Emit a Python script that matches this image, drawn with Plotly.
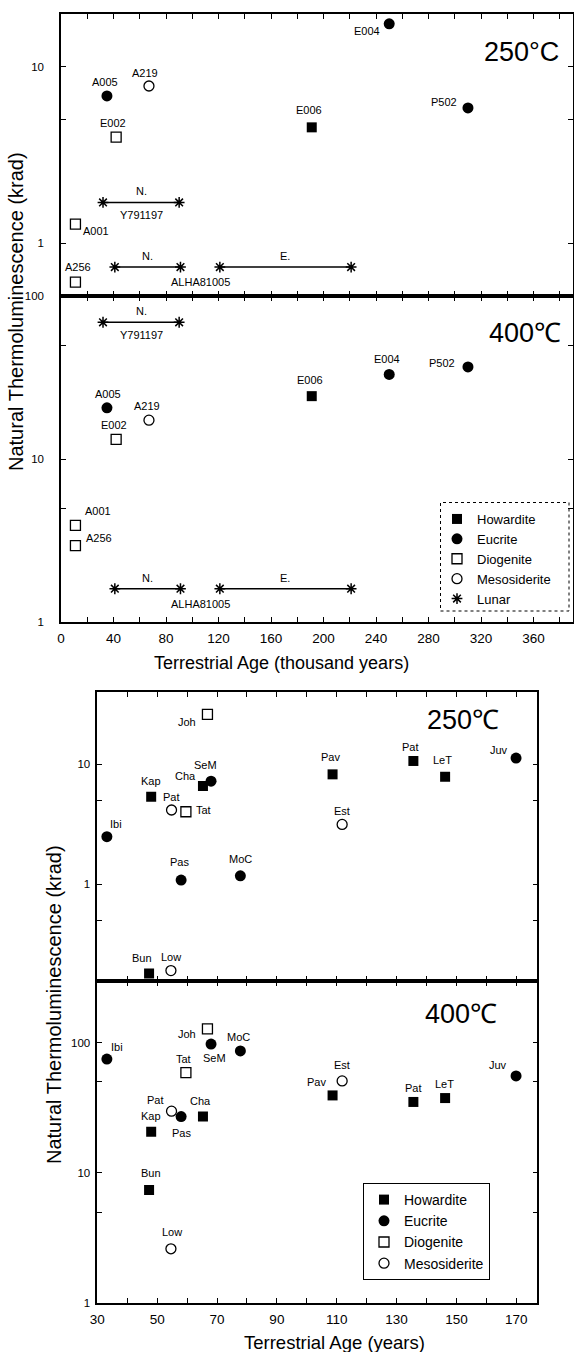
import math
import plotly.graph_objects as go

W, H = 574, 1352

# ---------------- Figure 1 data (terrestrial age in thousand years) ----------------
f1_names = ["A001", "A005", "A219", "A256", "E002", "E004", "E006", "P502"]
f1_types = ["Diogenite", "Eucrite", "Mesosiderite", "Diogenite",
            "Diogenite", "Eucrite", "Howardite", "Eucrite"]
f1_age = [11, 35, 67, 11, 42, 250, 191, 310]
f1_tl250 = [1.28, 6.85, 7.8, 0.60, 4.0, 17.6, 4.54, 5.85]
f1_tl400 = [3.92, 20.6, 17.3, 2.94, 13.2, 33.0, 24.3, 36.7]

lunar_names = ["Y791197", "ALHA81005", "ALHA81005"]
lunar_tags = ["N.", "N.", "E."]
lunar_age_from = [32, 41, 121]
lunar_age_to = [90, 91, 221]
lunar_tl250 = [1.70, 0.73, 0.73]
lunar_tl400 = [69.0, 1.6, 1.6]

# ---------------- Figure 2 data (terrestrial age in years) ----------------
f2_names = ["Ibi", "Kap", "Bun", "Pat", "Low", "Tat", "Pas", "Cha",
            "Joh", "SeM", "MoC", "Pav", "Est", "Pat", "LeT", "Juv"]
f2_types = ["Eucrite", "Howardite", "Howardite", "Mesosiderite", "Mesosiderite",
            "Diogenite", "Eucrite", "Howardite", "Diogenite", "Eucrite", "Eucrite",
            "Howardite", "Mesosiderite", "Howardite", "Howardite", "Eucrite"]
f2_age = [33.2, 48, 47.3, 54.8, 54.6, 59.6, 58, 65.3, 66.8, 68, 77.8,
          108.6, 111.8, 135.6, 146.2, 169.9]
f2_tl250 = [2.48, 5.34, 0.18, 4.14, 0.19, 4.0, 1.08, 6.56, 25.9, 7.2, 1.17,
            8.2, 3.14, 10.6, 7.83, 11.2]
f2_tl400 = [75, 20.7, 7.4, 29.8, 2.61, 58.9, 27.1, 27.1, 128, 97.8, 86.6,
            39.4, 50.9, 35.1, 37.6, 55.6]

categories = ["Howardite", "Eucrite", "Diogenite", "Mesosiderite"]

# ---------------- styles ----------------
symbols = {"Howardite": "square", "Eucrite": "circle",
           "Diogenite": "square-open", "Mesosiderite": "circle-open"}
sizes = {"Howardite": 10, "Eucrite": 11, "Diogenite": 10, "Mesosiderite": 10}

# label offsets in pixels (dx, dy-up), per panel, in order of the name lists
off_f1_250 = [(21, -7), (-2, 14), (-4, 13), (3, 15), (-3, 14), (-22, -7), (-3, 17), (-24, 6)]
off_f1_400 = [(23, 14), (1, 14), (-1.5, 14), (24, 8), (-2, 14), (-2.5, 15), (-2, 16), (-25.5, 4)]
off_f2_250 = [(9.5, 13), (0, 16), (-7, 15), (0, 13), (0, 14), (18, 2), (-2, 18), (-17, 10),
              (-20, -8), (-5.5, 16), (0, 17), (-2, 17), (0, 13), (-2.5, 14), (-3, 17), (-17.5, 8)]
off_f2_400 = [(10, 12), (0, 16), (2, 17), (-16, 11), (1, 17), (-2, 14), (0, -16), (-2, 16),
              (-20, -5), (3, -14), (-2, 14), (-16, 13), (0, 16), (0, 14), (-1, 14), (-18, 11)]

FONT = "Liberation Sans, Arial, sans-serif"


def xd(px):
    return px / W


def yd(px):
    return 1 - px / H


fig = go.Figure()
annotations = []


def label(xa, ya, x, y, text, dx=0, dy=0, size=11):
    annotations.append(dict(x=x, y=y, xref=xa, yref=ya, text=text, showarrow=False,
                            xanchor="center", yanchor="middle", xshift=dx, yshift=dy,
                            font=dict(family=FONT, size=size, color="black")))


def add_points(xa, ya, names, types, ages, vals, offs, legend=None):
    for cat in categories:
        idx = [i for i, t in enumerate(types) if t == cat]
        if not idx:
            continue
        filled = not symbols[cat].endswith("open")
        fig.add_trace(go.Scatter(
            x=[ages[i] for i in idx], y=[vals[i] for i in idx],
            mode="markers", name=cat, xaxis=xa, yaxis=ya,
            marker=dict(symbol=symbols[cat], size=sizes[cat], color="black",
                        line=dict(color="black", width=1.3 if not filled else 0)),
            showlegend=legend is not None,
            legend=legend if legend else "legend",
            hoverinfo="skip",
        ))
    for i, n in enumerate(names):
        dx, dy = offs[i]
        label(xa, ya, ages[i], math.log10(vals[i]), n, dx, dy)


def add_lunar(xa, ya, vals, legend=None):
    lx, ly, mx, my = [], [], [], []
    for a0, a1, v in zip(lunar_age_from, lunar_age_to, vals):
        lx += [a0, a1, None]
        ly += [v, v, None]
        mx += [a0, a1]
        my += [v, v]
    fig.add_trace(go.Scatter(x=lx, y=ly, mode="lines", xaxis=xa, yaxis=ya,
                             line=dict(color="black", width=1.5),
                             showlegend=False, hoverinfo="skip"))
    fig.add_trace(go.Scatter(x=mx, y=my, mode="markers", name="Lunar", xaxis=xa, yaxis=ya,
                             marker=dict(symbol="asterisk-open", size=9, color="black",
                                         line=dict(color="black", width=1.5)),
                             showlegend=legend is not None,
                             legend=legend if legend else "legend",
                             hoverinfo="skip"))
    for k, (a0, a1, v) in enumerate(zip(lunar_age_from, lunar_age_to, vals)):
        label(xa, ya, (a0 + a1) / 2, math.log10(v), lunar_tags[k], 0, 11)
        if lunar_tags[k] == "N.":
            if k == 0:
                label(xa, ya, (a0 + a1) / 2, math.log10(v), lunar_names[k], 0, -13)
            else:
                label(xa, ya, a1, math.log10(v), lunar_names[k], 20, -15)


# Figure 1
add_points("x2", "y2", f1_names, f1_types, f1_age, f1_tl250, off_f1_250)
add_lunar("x2", "y2", lunar_tl250)
add_points("x", "y", f1_names, f1_types, f1_age, f1_tl400, off_f1_400, legend="legend")
add_lunar("x", "y", lunar_tl400, legend="legend")

# Figure 2
add_points("x4", "y4", f2_names, f2_types, f2_age, f2_tl250, off_f2_250)
add_points("x3", "y3", f2_names, f2_types, f2_age, f2_tl400, off_f2_400, legend="legend2")

axis_common = dict(showline=True, linecolor="black", linewidth=1.5, mirror="ticks",
                   ticks="inside", ticklen=5, tickwidth=1.2, tickcolor="black",
                   showgrid=False, zeroline=False, fixedrange=True)

f1_xticks = list(range(0, 381, 20))
f1_xtext = [str(v) if v % 40 == 0 else "" for v in f1_xticks]
f2_xticks = list(range(30, 171, 10))
f2_xtext = [str(v) if (v - 30) % 20 == 0 else "" for v in f2_xticks]

f1_xdom = [xd(61), xd(573)]
f2_xdom = [xd(97.3), xd(537.3)]

fig.update_layout(
    width=W, height=H, margin=dict(l=0, r=0, t=0, b=0, autoexpand=False),
    paper_bgcolor="white", plot_bgcolor="white",
    font=dict(family=FONT, color="black"),
    # Figure 1 lower (400C)
    xaxis=dict(domain=f1_xdom, range=[0, 390], anchor="y", tickvals=f1_xticks,
               ticktext=f1_xtext, tickfont=dict(size=13.5), ticklabelstandoff=3,
               **axis_common),
    yaxis=dict(domain=[yd(622), yd(296)], type="log", range=[0, 2], anchor="x",
               tickvals=[1, 5, 10, 50, 100], ticktext=["1", "", "10", "", "100"],
               tickfont=dict(size=11.5), ticklabelstandoff=13, **axis_common),
    # Figure 1 upper (250C)
    xaxis2=dict(domain=f1_xdom, range=[0, 390], anchor="y2", tickvals=f1_xticks,
                showticklabels=False, **axis_common),
    yaxis2=dict(domain=[yd(296), yd(14)], type="log",
                range=[math.log10(0.5), math.log10(20)], anchor="x2",
                tickvals=[1, 5, 10], ticktext=["1", "", "10"],
                tickfont=dict(size=11.5), ticklabelstandoff=13, **axis_common),
    # Figure 2 lower (400C)
    xaxis3=dict(domain=f2_xdom, range=[30, 177], anchor="y3", tickvals=f2_xticks,
                ticktext=f2_xtext, tickfont=dict(size=13.5), ticklabelstandoff=3,
                **axis_common),
    yaxis3=dict(domain=[yd(1303), yd(981)], type="log", range=[0, 2.475], anchor="x3",
                tickvals=[1, 5, 10, 50, 100], ticktext=["1", "", "10", "", "100"],
                tickfont=dict(size=11.5), ticklabelstandoff=3, **axis_common),
    # Figure 2 upper (250C)
    xaxis4=dict(domain=f2_xdom, range=[30, 177], anchor="y4", tickvals=f2_xticks,
                showticklabels=False, **axis_common),
    yaxis4=dict(domain=[yd(981), yd(692)], type="log", range=[-0.808, 1.6], anchor="x4",
                tickvals=[0.5, 1, 5, 10], ticktext=["", "1", "", "10"],
                tickfont=dict(size=11.5), ticklabelstandoff=3, **axis_common),
    legend=dict(x=xd(437), y=yd(504), xanchor="left", yanchor="top",
                font=dict(size=13), bgcolor="rgba(0,0,0,0)", borderwidth=0,
                tracegroupgap=0, itemclick=False),
    legend2=dict(x=xd(363), y=yd(1183), xanchor="left", yanchor="top",
                 font=dict(size=14), bgcolor="white", bordercolor="black", borderwidth=1,
                 tracegroupgap=0, itemclick=False),
    showlegend=True,
)

# dotted legend frame for figure 1
fig.add_shape(type="rect", xref="paper", yref="paper",
              x0=xd(440.5), x1=xd(569), y0=yd(611), y1=yd(502.5),
              line=dict(color="black", width=1, dash="dot"), fillcolor="rgba(0,0,0,0)")


def paper_text(text, xp, yp, size, angle=0):
    annotations.append(dict(x=xd(xp), y=yd(yp), xref="paper", yref="paper", text=text,
                            textangle=angle, xanchor="center", yanchor="middle",
                            showarrow=False, font=dict(family=FONT, size=size, color="black")))


# temperature labels
paper_text("250°C", 521, 52, 27)
paper_text("400℃", 525, 333, 27)
paper_text("250℃", 463, 720, 27)
paper_text("400℃", 461, 1014, 27)

# axis titles
paper_text("Natural Thermoluminescence (krad)", 16, 312, 20, -90)
paper_text("Natural Thermoluminescence (krad)", 54, 1005, 20, -90)
paper_text("Terrestrial Age (thousand years)", 281, 663, 18)
paper_text("Terrestrial Age (years)", 334, 1342, 18.5)

fig.update_layout(annotations=annotations)
fig.write_html("out.html")
